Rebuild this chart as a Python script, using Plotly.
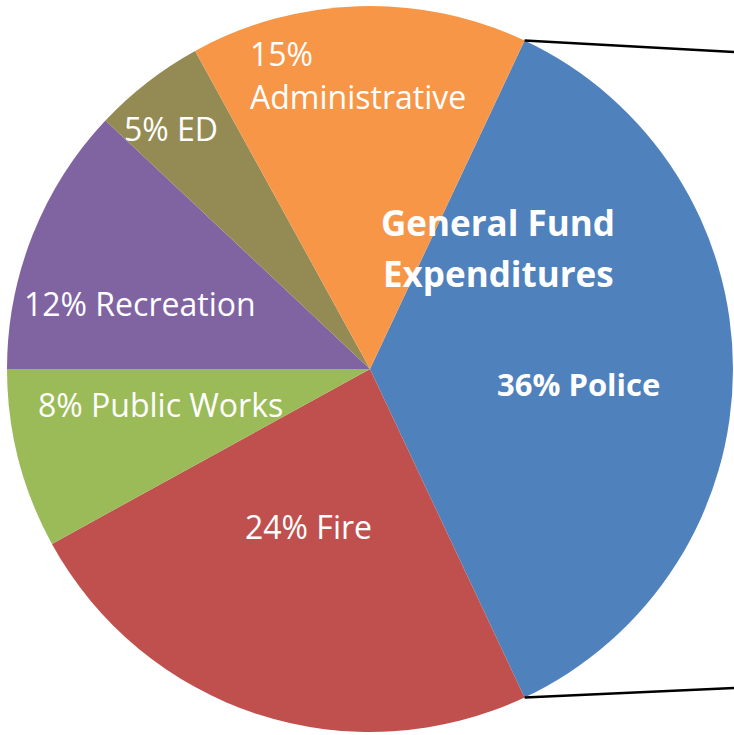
import math
import plotly.graph_objects as go

# General fund expenditure shares (percent), clockwise from Police
categories = ["Police", "Fire", "Public Works", "Recreation", "ED", "Administrative"]
shares = [36, 24, 8, 12, 5, 15]
colors = ["#4F81BD", "#C0504D", "#9BBB59", "#8064A2", "#948A54", "#F79646"]
title_lines = ["General Fund", "Expenditures"]

W, H = 734, 735
CX, CY, R = 370, 369, 363          # pie centre / radius in pixels
ROTATION = 25.2                    # start angle of first slice, clockwise from 12 o'clock


def px(x):
    return x / W


def py(y):
    return 1 - y / H


fig = go.Figure(
    go.Pie(
        labels=categories,
        values=shares,
        sort=False,
        direction="clockwise",
        rotation=ROTATION,
        marker=dict(colors=colors, line=dict(width=0)),
        textinfo="none",
        hoverinfo="skip",
        showlegend=False,
        domain=dict(x=[px(CX - R), px(CX + R)], y=[py(CY + R), py(CY - R)]),
    )
)

# Connector lines leaving the Police slice edges toward the right
total = sum(shares)
a0 = math.radians(ROTATION)
a1 = math.radians(ROTATION + 360 * shares[0] / total)
for ang, ty in [(a0, 52), (a1, 688)]:
    sx = CX + R * math.sin(ang)
    sy = CY - R * math.cos(ang)
    fig.add_shape(
        type="line", xref="paper", yref="paper",
        x0=px(sx), y0=py(sy), x1=1.0, y1=py(ty),
        line=dict(color="black", width=2.5),
    )

FONT = "Open Sans, Noto Sans, sans-serif"


def label(text, x, y, size, bold=False, xanchor="center"):
    fig.add_annotation(
        text=f"<b>{text}</b>" if bold else text,
        x=px(x), y=py(y), xref="paper", yref="paper",
        xanchor=xanchor, yanchor="middle", showarrow=False,
        font=dict(family=FONT, size=size, color="white"),
    )


lab = {c: f"{v}% {c}" for c, v in zip(categories, shares)}

label(f"{shares[5]}%", 248, 53, 32, xanchor="left")
label(categories[5], 248, 96, 32, xanchor="left")
label(lab["ED"], 171, 128, 32)
label(lab["Recreation"], 140, 304, 32)
label(lab["Public Works"], 160, 404, 32)
label(lab["Fire"], 308, 526, 32)
label(title_lines[0], 498, 222, 35, bold=True)
label(title_lines[1], 498, 273, 35, bold=True)
label(lab["Police"], 578, 384, 31, bold=True)

fig.update_layout(
    width=W, height=H,
    margin=dict(l=0, r=0, t=0, b=0),
    paper_bgcolor="white", plot_bgcolor="white",
)

fig.write_html("out.html")
